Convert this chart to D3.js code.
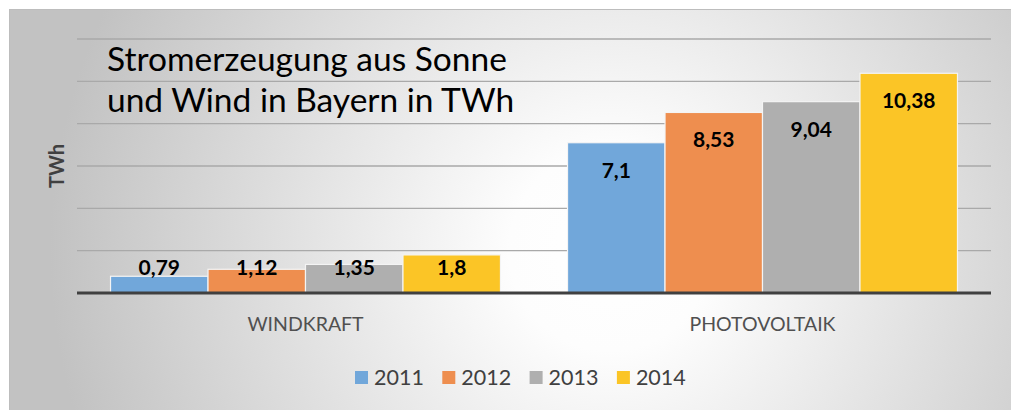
<!DOCTYPE html>
<html>
<head>
<meta charset="utf-8">
<script src="https://cdn.jsdelivr.net/npm/d3@7"></script>
<style>
  body { margin: 0; background: #fff; }
  svg { display: block; font-family: Lato, "Open Sans", sans-serif; }
</style>
</head>
<body>
<svg width="1011" height="410"></svg>
<script>
var categories = ["WINDKRAFT", "PHOTOVOLTAIK"];
var years = ["2011", "2012", "2013", "2014"];
var windkraft = [0.79, 1.12, 1.35, 1.8];
var photovoltaik = [7.1, 8.53, 9.04, 10.38];
var yTicks = [0, 2, 4, 6, 8, 10, 12];
var colors = ["#71a7da", "#ee8e4f", "#afafaf", "#fbc526"];

var series = [windkraft, photovoltaik];

var svg = d3.select("svg"),
    width = +svg.attr("width"),
    height = +svg.attr("height");

var margin = {left: 77, right: 20, top: 39, bottom: 117};

// background gradient
var defs = svg.append("defs");
var grad = defs.append("radialGradient")
    .attr("id", "bg")
    .attr("gradientUnits", "userSpaceOnUse")
    .attr("cx", 610).attr("cy", 250).attr("r", 560);
grad.append("stop").attr("offset", "0%").attr("stop-color", "#ffffff");
grad.append("stop").attr("offset", "18%").attr("stop-color", "#fdfdfd");
grad.append("stop").attr("offset", "100%").attr("stop-color", "#c2c2c2");

svg.append("rect")
    .attr("x", 9.5).attr("y", 9.5)
    .attr("width", width).attr("height", height)
    .attr("fill", "url(#bg)")
    .attr("stroke", "#bdbdbd");

var x0 = d3.scaleBand()
    .domain(categories)
    .range([margin.left, 991]);

var x1 = d3.scaleBand()
    .domain(years)
    .range([0, x0.bandwidth()])
    .paddingOuter(0.344);

var y = d3.scaleLinear()
    .domain([0, 12])
    .range([293, margin.top]);

// gridlines
svg.append("g")
  .selectAll("line")
  .data(yTicks.slice(1))
  .enter()
  .append("line")
    .attr("x1", margin.left).attr("x2", 991)
    .attr("y1", d => y(d)).attr("y2", d => y(d))
    .attr("stroke", "#a9a9a9")
    .attr("stroke-width", 1.3);

// title
var title = svg.append("text")
    .attr("x", 107)
    .attr("font-size", 33.5)
    .attr("fill", "#000");
title.append("tspan").attr("x", 107).attr("y", 71).text("Stromerzeugung aus Sonne");
title.append("tspan").attr("x", 107).attr("y", 112).text("und Wind in Bayern in TWh");

// bars
var groups = svg.append("g")
  .selectAll("g")
  .data(categories)
  .enter()
  .append("g")
    .attr("transform", d => "translate(" + x0(d) + ",0)");

groups.selectAll("rect")
  .data((d, i) => series[i].map((v, j) => ({year: years[j], value: v, idx: j})))
  .enter()
  .append("rect")
    .attr("x", d => x1(d.year))
    .attr("y", d => y(d.value))
    .attr("width", x1.bandwidth())
    .attr("height", d => y(0) - y(d.value))
    .attr("fill", d => colors[d.idx])
    .attr("stroke", "#f4f4f4")
    .attr("stroke-width", 1.2);

groups.selectAll("text")
  .data((d, i) => series[i].map((v, j) => ({year: years[j], value: v, idx: j})))
  .enter()
  .append("text")
    .attr("x", d => x1(d.year) + x1.bandwidth() / 2)
    .attr("y", d => Math.min(y(d.value) + 35, y(0) - 18))
    .attr("text-anchor", "middle")
    .attr("font-size", 21)
    .attr("font-weight", "bold")
    .attr("fill", "#000")
    .text(d => String(d.value).replace(".", ","));

// axis baseline
svg.append("line")
    .attr("x1", margin.left).attr("x2", 991)
    .attr("y1", y(0)).attr("y2", y(0))
    .attr("stroke", "#404040")
    .attr("stroke-width", 3);

// category labels
svg.append("g")
  .selectAll("text")
  .data(categories)
  .enter()
  .append("text")
    .attr("x", d => x0(d) + x0.bandwidth() / 2)
    .attr("y", 331)
    .attr("text-anchor", "middle")
    .attr("font-size", 19.5)
    .attr("fill", "#505050")
    .text(d => d);

// y axis title
svg.append("text")
    .attr("transform", "translate(64,166) rotate(-90)")
    .attr("text-anchor", "middle")
    .attr("font-size", 20)
    .attr("font-weight", "bold")
    .attr("fill", "#404040")
    .text("TWh");

// legend
var legend = svg.append("g")
  .selectAll("g")
  .data(years)
  .enter()
  .append("g")
    .attr("transform", (d, i) => "translate(" + (355 + i * 87.3) + ",371)");

legend.append("rect")
    .attr("width", 13).attr("height", 13)
    .attr("fill", (d, i) => colors[i]);

legend.append("text")
    .attr("x", 19)
    .attr("y", 14)
    .attr("font-size", 21.5)
    .attr("fill", "#404040")
    .text(d => d);
</script>
</body>
</html>
